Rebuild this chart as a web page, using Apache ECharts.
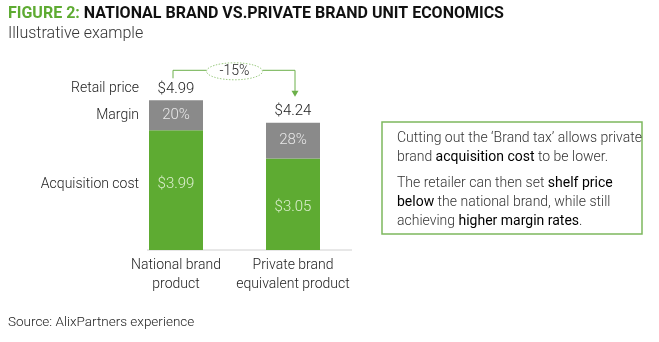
<!DOCTYPE html>
<html><head><meta charset="utf-8">
<script src="https://cdn.jsdelivr.net/npm/echarts@6/dist/echarts.min.js"></script>
<style>html,body{margin:0;padding:0;background:#fff}#c{width:659px;height:342px}</style>
</head><body><div id="c"></div>
<script>
const categories = ['National brand\nproduct', 'Private brand\nequivalent product'];
const retailPrice = [4.99, 4.24];
const acquisitionCost = [3.99, 3.05];
const marginPct = ['20%', '28%'];
const priceChange = '-15%';
const rowLabels = ['Retail price', 'Margin', 'Acquisition cost'];
const margin = retailPrice.map((p, i) => +(p - acquisitionCost[i]).toFixed(2));

const GREEN = '#5eab32', GRAY = '#8a8a8a', LINE_GREEN = '#6cb04a';
const FONT = 'Roboto';
const chart = echarts.init(document.getElementById('c'), null, {renderer: 'canvas'});
const acqOffsets = [[0, -6], [0, 3]];
chart.setOption({
  animation: false,
  textStyle: {fontFamily: FONT},
  grid: {left: 117.5, width: 234, top: 100, bottom: 92},
  xAxis: {type: 'category', data: categories, axisLine: {show: false}, axisTick: {show: false},
    axisLabel: {interval: 0, color: '#222', fontSize: 14, lineHeight: 19, margin: 6, fontWeight: 300, fontFamily: FONT}},
  yAxis: {type: 'value', min: 0, max: 5, show: false},
  series: [
    {type: 'bar', stack: 's', barWidth: 54, itemStyle: {color: GREEN},
     data: acquisitionCost.map((v, i) => ({value: v, label: {offset: acqOffsets[i]}})),
     label: {show: true, position: 'inside', formatter: p => '$' + p.value.toFixed(2),
       color: '#dcefcf', fontSize: 15, fontWeight: 300, fontFamily: FONT}},
    {type: 'bar', stack: 's', data: margin, itemStyle: {color: GRAY},
     label: {show: true, position: 'inside', formatter: p => marginPct[p.dataIndex],
       color: '#e8e8e8', fontSize: 15, fontWeight: 300, fontFamily: FONT}},
    {type: 'bar', stack: 's', data: retailPrice.map(() => 0), itemStyle: {color: 'transparent'},
     label: {show: true, position: 'top', distance: 4, formatter: p => '$' + retailPrice[p.dataIndex].toFixed(2),
       color: '#222', fontSize: 15, fontWeight: 300, fontFamily: FONT}}
  ]
});

const px = (i, v) => chart.convertToPixel({gridIndex: 0}, [i, v]);
const [x0, yTop0] = px(0, retailPrice[0]);
const [x1, yTop1] = px(1, retailPrice[1]);
const [, yAcq0] = px(0, acquisitionCost[0]);
const [, yBase] = px(0, 0);
const yMarginMid = (yTop0 + yAcq0) / 2;
const yAcqMid = (yAcq0 + yBase) / 2 - 6;
const arrowY = yTop0 - 30;
const midX = (x0 + x1) / 2;

const txt = (x, y, text, o = {}) => ({type: 'text', x, y, silent: true,
  style: Object.assign({text, fontFamily: FONT, fontSize: 14, fontWeight: 300, fill: '#222',
    textAlign: 'left', textVerticalAlign: 'middle'}, o)});
const rich = {
  n: {fontFamily: FONT, fontSize: 14, fontWeight: 300, fill: '#333'},
  b: {fontFamily: FONT, fontSize: 14, fontWeight: 400, fill: '#000'}
};
const rtxt = (y, text) => ({type: 'text', x: 397, y, silent: true,
  style: {text, rich, textVerticalAlign: 'middle', fontFamily: FONT, fontSize: 14}});

chart.setOption({graphic: [
  {type: 'text', x: 8, y: 14, silent: true, style: {
    text: '{g|FIGURE 2: }{k|NATIONAL BRAND VS.PRIVATE BRAND UNIT ECONOMICS}',
    textVerticalAlign: 'middle',
    rich: {g: {fontFamily: FONT, fontSize: 16, fontWeight: 'bold', fill: '#5eab32'},
           k: {fontFamily: FONT, fontSize: 16, fontWeight: 'bold', fill: '#111'}}}},
  txt(8, 34, 'Illustrative example', {fontSize: 16, fill: '#333'}),
  txt(8, 323, 'Source: AlixPartners experience', {fontSize: 13.5, fill: '#222'}),
  txt(139, yTop0 - 12, rowLabels[0], {textAlign: 'right'}),
  txt(139, yMarginMid, rowLabels[1], {textAlign: 'right'}),
  txt(139, yAcqMid, rowLabels[2], {textAlign: 'right'}),
  {type: 'line', silent: true, shape: {x1: x0 - 29, y1: yBase, x2: 352, y2: yBase},
   style: {stroke: '#d0d0d0', lineWidth: 1}},
  {type: 'polyline', silent: true,
   shape: {points: [[x0 - 3, yTop0 - 22], [x0 - 3, arrowY], [midX - 28, arrowY]]},
   style: {stroke: LINE_GREEN, lineWidth: 1, fill: null}},
  {type: 'polyline', silent: true,
   shape: {points: [[midX + 28, arrowY], [x1 + 2, arrowY], [x1 + 2, yTop1 - 31]]},
   style: {stroke: LINE_GREEN, lineWidth: 1, fill: null}},
  {type: 'polygon', silent: true,
   shape: {points: [[x1 - 1.5, yTop1 - 32], [x1 + 5.5, yTop1 - 32], [x1 + 2, yTop1 - 26]]},
   style: {fill: LINE_GREEN}},
  {type: 'ellipse', silent: true, shape: {cx: midX, cy: arrowY + 1, rx: 28, ry: 8.5},
   style: {stroke: '#9ccb82', lineWidth: 1, lineDash: [1.5, 1.5], fill: '#fff'}},
  txt(midX, arrowY + 1, priceChange, {textAlign: 'center', fontSize: 14, fill: '#222'}),
  {type: 'rect', silent: true, shape: {x: 382, y: 122, width: 260, height: 112},
   style: {stroke: '#7db85e', lineWidth: 1.5, fill: null}},
  rtxt(138, '{n|Cutting out the ‘Brand tax’ allows private}'),
  rtxt(157, '{n|brand }{b|acquisition cost}{n| to be lower.}'),
  rtxt(183, '{n|The retailer can then set }{b|shelf price}'),
  rtxt(202, '{b|below}{n| the national brand, while still}'),
  rtxt(221, '{n|achieving }{b|higher margin rates}{n|.}')
]});
</script></body></html>
